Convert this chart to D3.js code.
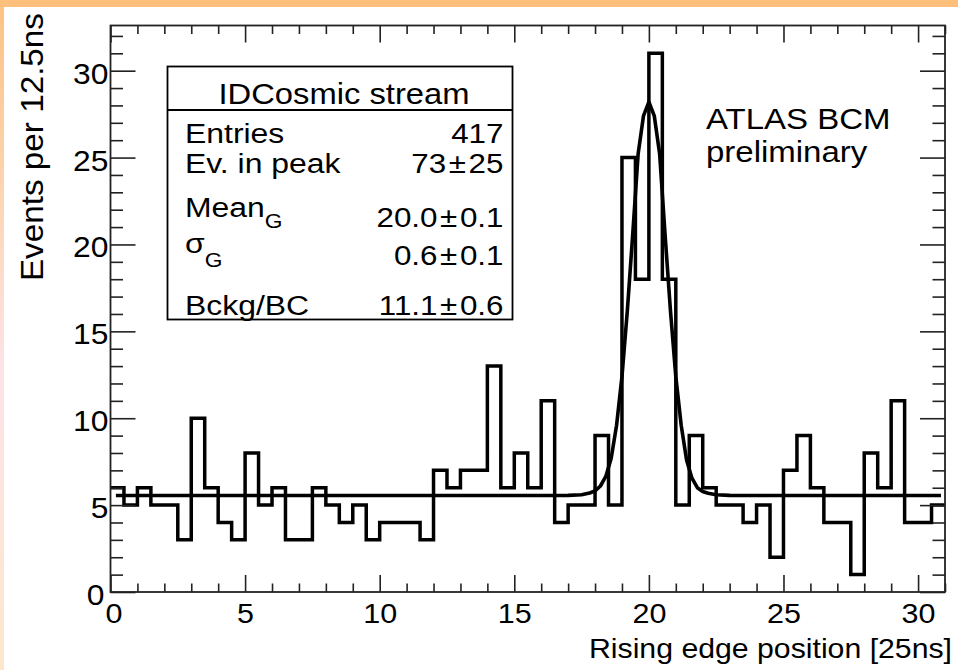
<!DOCTYPE html>
<html>
<head>
<meta charset="utf-8">
<script src="https://cdn.jsdelivr.net/npm/d3@7"></script>
<style>
  html, body { margin: 0; padding: 0; background: #ffffff; }
  svg { display: block; }
  text { font-family: "Liberation Sans", Arial, Helvetica, sans-serif; fill: #000; }
</style>
</head>
<body>
<svg id="chart" width="958" height="670"></svg>
<script>
// ---------------- data ----------------
// 62 bins of width 0.5 [25ns] from 0 to 31 (one bin = 12.5 ns)
const binWidth = 0.5;
const binCounts = [
  6, 5, 6, 5, 5, 3, 10, 6, 4, 3,
  8, 5, 6, 3, 3, 6, 5, 4, 5, 3,
  4, 4, 4, 3, 7, 6, 7, 7, 13, 6,
  8, 6, 11, 4, 5, 5, 9, 5, 25, 18,
  31, 18, 5, 9, 6, 5, 5, 4, 5, 2,
  7, 9, 6, 4, 4, 1, 8, 6, 11, 4,
  4, 5
];
// fit curve (gaussian + flat background)
const fitX = [0.2, 16.0, 17.0, 17.5, 17.8, 18.0, 18.2, 18.4, 18.6, 18.8, 19.0, 19.2, 19.4, 19.6, 19.8, 20.0,
              20.2, 20.4, 20.6, 20.8, 21.0, 21.2, 21.4, 21.6, 21.8, 22.0, 22.2, 22.5, 23.0, 24.0, 30.85];
const fitY = [5.55, 5.55, 5.56, 5.6, 5.7, 5.82, 6.1, 6.65, 7.7, 9.6, 12.4, 16.2, 20.6, 25.2, 27.4, 28.2,
              27.4, 25.2, 20.6, 16.2, 12.4, 9.6, 7.6, 6.55, 6.0, 5.78, 5.68, 5.6, 5.56, 5.55, 5.55];
const xMajorTicks = [0, 5, 10, 15, 20, 25, 30];
const xMinorTicks = [1,2,3,4,6,7,8,9,11,12,13,14,16,17,18,19,21,22,23,24,26,27,28,29,31];
const yMajorTicks = [0, 5, 10, 15, 20, 25, 30];
const yMinorTicks = [1,2,3,4,6,7,8,9,11,12,13,14,16,17,18,19,21,22,23,24,26,27,28,29,31,32];
const statsTitle = "IDCosmic stream";
const statLabels = ["Entries", "Ev. in peak", "Mean", "\u03c3", "Bckg/BC"];
const statSubs   = ["", "", "G", "G", ""];
const statValues = ["417", "73\u200a\u00b1\u200a25", "20.0\u200a\u00b1\u200a0.1", "0.6\u200a\u00b1\u200a0.1", "11.1\u200a\u00b1\u200a0.6"];
const xTitle = "Rising edge position [25ns]";
const yTitle = "Events per 12.5ns";
const noteLines = ["ATLAS BCM", "preliminary"];

// ---------------- layout ----------------
const svg = d3.select("#chart");
const W = 958, H = 670;
const frame = { left: 110.5, top: 25.5, right: 945, bottom: 592 };

// background decoration
const defs = svg.append("defs");
const grad = defs.append("linearGradient").attr("id", "leftStrip")
  .attr("x1", 0).attr("y1", 0).attr("x2", 0).attr("y2", 1);
grad.append("stop").attr("offset", "0%").attr("stop-color", "#fcc283");
grad.append("stop").attr("offset", "30%").attr("stop-color", "#fdd6b4");
grad.append("stop").attr("offset", "55%").attr("stop-color", "#fde3e8");
grad.append("stop").attr("offset", "100%").attr("stop-color", "#fde7cc");
svg.append("rect").attr("x", 0).attr("y", 0).attr("width", W).attr("height", H).attr("fill", "#ffffff");
svg.append("rect").attr("x", 0).attr("y", 0).attr("width", 4).attr("height", H).attr("fill", "url(#leftStrip)");
svg.append("rect").attr("x", 0).attr("y", 0).attr("width", W).attr("height", 7).attr("fill", "#fcc07c");

const x = d3.scaleLinear().domain([0, 31]).range([frame.left, frame.right]);
const y = d3.scaleLinear().domain([0, 32.6]).range([frame.bottom, frame.top]);

// text helper: horizontally widened text (the reference glyphs are a bit wider than Arial)
function addText(parent, tx, ty, str, size, sx, anchor, rot) {
  const t = parent.append("text")
    .attr("transform", `translate(${tx},${ty})${rot ? ` rotate(${rot})` : ""} scale(${sx},1)`)
    .attr("font-size", size)
    .attr("text-anchor", anchor || "start");
  if (str !== null) t.text(str);
  return t;
}

// ---------------- histogram ----------------
const steps = [];
binCounts.forEach((c, i) => {
  steps.push([i * binWidth, c]);
  steps.push([(i + 1) * binWidth, c]);
});
const histLine = d3.line().x(d => x(d[0])).y(d => y(d[1]));
svg.append("path").attr("d", histLine(steps))
  .attr("fill", "none").attr("stroke", "#000").attr("stroke-width", 3.5)
  .attr("stroke-linejoin", "miter");

// ---------------- fit ----------------
const fitLine = d3.line().x((d, i) => x(fitX[i])).y((d, i) => y(fitY[i])).curve(d3.curveLinear);
svg.append("path").attr("d", fitLine(fitX))
  .attr("fill", "none").attr("stroke", "#000").attr("stroke-width", 3.6)
  .attr("stroke-linejoin", "round");

// ---------------- axes ----------------
const tickColor = "#222";
function styleAxis(g) {
  g.select(".domain").remove();
  g.selectAll(".tick line").attr("stroke", tickColor).attr("stroke-width", 1.6);
}
// bottom
svg.append("g").attr("transform", `translate(0,${frame.bottom})`)
  .call(d3.axisBottom(x).tickValues(xMajorTicks).tickSize(-17).tickPadding(0).tickFormat(d3.format("d")))
  .call(styleAxis)
  .call(g => g.selectAll("text")
    .attr("font-size", 27).attr("font-family", "Liberation Sans, Arial, sans-serif").attr("fill", "#000")
    .attr("y", 31).attr("dy", null)
    .attr("transform", d => `translate(${d === 0 ? 3 : 0},0) scale(1.13,1)`));
svg.append("g").attr("transform", `translate(0,${frame.bottom})`)
  .call(d3.axisBottom(x).tickValues(xMinorTicks).tickSize(-8.5).tickFormat(""))
  .call(styleAxis);
// top
svg.append("g").attr("transform", `translate(0,${frame.top})`)
  .call(d3.axisTop(x).tickValues(xMajorTicks).tickSize(-17).tickFormat(""))
  .call(styleAxis);
svg.append("g").attr("transform", `translate(0,${frame.top})`)
  .call(d3.axisTop(x).tickValues(xMinorTicks).tickSize(-8.5).tickFormat(""))
  .call(styleAxis);
// left
svg.append("g").attr("transform", `translate(${frame.left},0)`)
  .call(d3.axisLeft(y).tickValues(yMajorTicks).tickSize(-25).tickPadding(2).tickFormat(d3.format("d")))
  .call(styleAxis)
  .call(g => g.selectAll("text").attr("font-size", 30).attr("dy", null).attr("y", 12.5)
    .attr("font-family", "Liberation Sans, Arial, sans-serif").attr("fill", "#000")
    .attr("transform", d => `translate(${d === 0 ? -4 : 0},0) scale(1.06,1)`));
svg.append("g").attr("transform", `translate(${frame.left},0)`)
  .call(d3.axisLeft(y).tickValues(yMinorTicks).tickSize(-12.5).tickFormat(""))
  .call(styleAxis);
// right
svg.append("g").attr("transform", `translate(${frame.right},0)`)
  .call(d3.axisRight(y).tickValues(yMajorTicks).tickSize(-25).tickFormat(""))
  .call(styleAxis);
svg.append("g").attr("transform", `translate(${frame.right},0)`)
  .call(d3.axisRight(y).tickValues(yMinorTicks).tickSize(-12.5).tickFormat(""))
  .call(styleAxis);

// frame
svg.append("rect")
  .attr("x", frame.left).attr("y", frame.top)
  .attr("width", frame.right - frame.left).attr("height", frame.bottom - frame.top)
  .attr("fill", "none").attr("stroke", tickColor).attr("stroke-width", 1.8);

// axis titles
addText(svg, 952, 658, xTitle, 27.5, 1.1, "end");
addText(svg, 43, 13, yTitle, 32, 1.04, "end", -90);

// ---------------- stats box ----------------
const box = { x: 167.5, y: 66.5, w: 345, h: 253, sep: 110 };
svg.append("rect").attr("x", box.x).attr("y", box.y).attr("width", box.w).attr("height", box.h)
  .attr("fill", "#fff").attr("stroke", "#000").attr("stroke-width", 1.8);
svg.append("line").attr("x1", box.x).attr("x2", box.x + box.w).attr("y1", box.sep).attr("y2", box.sep)
  .attr("stroke", "#000").attr("stroke-width", 1.8);
addText(svg, box.x + box.w / 2 + 4, 104, statsTitle, 29, 1.13, "middle");

const labelBase = [142.7, 173.3, 216.7, 253, 315];
const valueBase = [142.7, 173.3, 226.7, 265, 315];
statLabels.forEach((lab, i) => {
  const t = addText(svg, 185, labelBase[i], null, 28, 1.14, "start");
  t.append("tspan").text(lab);
  if (statSubs[i]) {
    t.append("tspan").attr("dy", i === 3 ? 14 : 11).attr("dx", 0).attr("font-size", 20).text(statSubs[i]);
  }
  addText(svg, 503.5, valueBase[i], statValues[i], 28, 1.12, "end");
});

// ---------------- note ----------------
noteLines.forEach((s, i) => {
  addText(svg, 706, i === 0 ? 128.5 : 162, s, 30, 1.1, "start");
});
</script>
</body>
</html>
